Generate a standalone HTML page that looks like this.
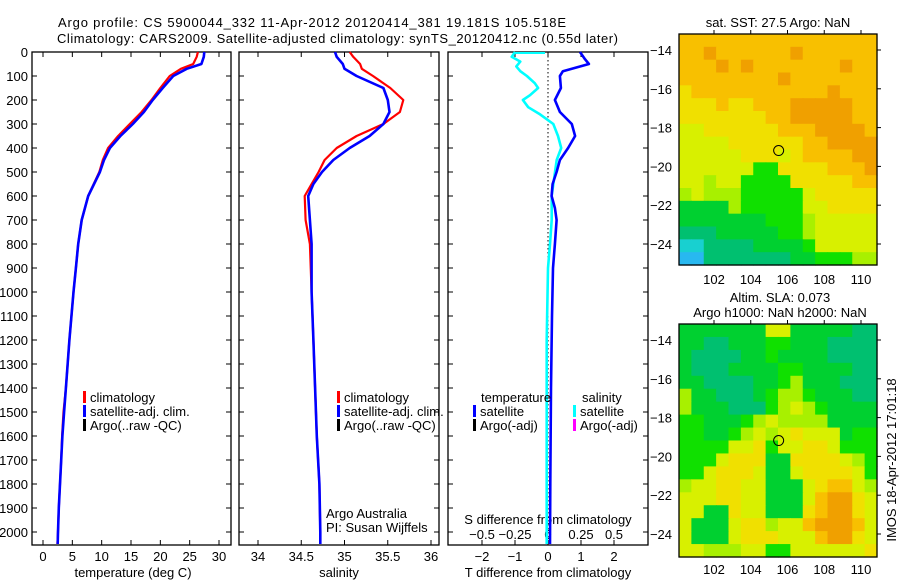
<!DOCTYPE html>
<html><head><meta charset="utf-8"><style>
html,body{margin:0;padding:0;background:#fff;}
svg{display:block;font-family:"Liberation Sans",sans-serif;}
</style></head><body>
<svg id="fig" width="900" height="580" viewBox="0 0 900 580">
<text x="58" y="27" font-size="13" textLength="508">Argo profile: CS 5900044_332 11-Apr-2012 20120414_381 19.181S 105.518E</text>
<text x="57" y="43" font-size="13" textLength="561">Climatology: CARS2009. Satellite-adjusted climatology: synTS_20120412.nc (0.55d later)</text>
<g id="g"></g>
</svg>
<script>
// ---- profile data ----
const tDepth = [0,20,50,70,100,150,200,250,300,350,400,450,500,600,700,800,900,1000,1200,1400,1500,1600,1700,1800,1900,2000,2050];
const tClim  = [26.4,26.2,25.6,23.5,21.6,20.0,18.5,16.8,14.8,12.8,11.1,10.2,9.6,7.7,6.6,6.0,5.6,5.2,4.5,3.9,3.5,3.25,3.1,2.9,2.7,2.55,2.45];
const tSat   = [27.5,27.4,27.0,24.5,22.2,20.4,18.7,17.2,15.3,13.2,11.4,10.4,9.7,7.7,6.6,6.0,5.6,5.2,4.5,3.9,3.6,3.3,3.1,2.9,2.7,2.55,2.5];
const sDepth = [0,20,50,70,100,150,200,250,300,350,400,450,500,550,600,700,800,1000,1200,1400,1600,1800,2000,2050];
const sClim  = [35.06,35.10,35.18,35.20,35.33,35.53,35.68,35.64,35.45,35.14,34.91,34.77,34.70,34.62,34.54,34.55,34.60,34.62,34.64,34.66,34.68,34.71,34.72,34.72];
const sSat   = [34.89,34.91,34.98,35.00,35.14,35.45,35.50,35.52,35.45,35.29,35.06,34.87,34.74,34.64,34.58,34.60,34.62,34.62,34.64,34.66,34.68,34.71,34.72,34.72];
const dDepth = [0,30,50,80,100,150,200,250,300,350,400,450,500,550,600,650,700,800,900,1100,1400,1800,2050];
const dT     = [0.97,1.12,1.24,0.45,0.36,0.39,0.21,0.36,0.72,0.82,0.61,0.36,0.26,0.14,0.11,0.21,0.26,0.21,0.15,0.12,0.09,0.07,0.06];
const sdDepth= [0,20,40,60,80,100,130,150,180,200,230,260,280,300,350,400,450,500,600,700,800,900,1200,1600,2050];
const dS     = [-0.25,-0.275,-0.21,-0.24,-0.21,-0.16,-0.10,-0.075,-0.136,-0.19,-0.15,-0.06,-0.01,0.04,0.076,0.10,0.066,0.053,0.028,0.028,0.015,0.0,-0.01,-0.01,-0.01];
const depthTicks = [0,100,200,300,400,500,600,700,800,900,1000,1100,1200,1300,1400,1500,1600,1700,1800,1900,2000];
const tempTicks = [0,5,10,15,20,25,30];
const salTicks = [34,34.5,35,35.5,36];
const salTickLabels = ["34","34.5","35","35.5","36"];
const dTTicks = [-2,-1,0,1,2];
const dSTicks = [-0.5,-0.25,0,0.25,0.5];
const dSTickLabels = ["-0.5","-0.25","0","0.25","0.5"];
// ---- map data (0 = cyan/blue ... 9 = orange) ----
const sstGrid = [
"8888888888888888",
"8898888889888888",
"8889898888888988",
"8888888898888888",
"7888888888889888",
"7778778889999988",
"7777777889999988",
"6677777788899998",
"6666777777889999",
"6666677767888899",
"6666664477778889",
"6656644447777788",
"5655544444677777",
"3333544444667777",
"3333333444566666",
"2223333344566666",
"1122223333466666",
"0022222223344455"];
const slaGrid = [
"3333333663333322",
"3322333443332222",
"3222233433332222",
"3222333344333322",
"3322223345333222",
"5332223455433322",
"5333222456543333",
"4433345655553333",
"4433456567666344",
"4444667466776444",
"4446777337777654",
"4467776336777764",
"5667766333678865",
"6667766333689976",
"6633766333789976",
"6333677566899986",
"6333677766689976",
"6655566446666667"];
const cmap = ["#28b8f0","#18d0d0","#00c070","#00d030","#10e000","#a8f000","#d8f000","#f0e000","#f8c000","#f0a000"];

const NS='http://www.w3.org/2000/svg';
const g=document.getElementById('g');
function el(tag,attrs,parent){const e=document.createElementNS(NS,tag);for(const k in attrs)e.setAttribute(k,attrs[k]);(parent||g).appendChild(e);return e;}
function txt(x,y,s,attrs,parent){const e=el('text',Object.assign({x:x,y:y,'font-size':13},attrs||{}),parent);e.textContent=s;return e;}

const Y0=52, Y1=545;
const yD = d => Y0 + 0.24*d;
const xT = t => 43 + 5.867*t;
const xS = s => 258 + 86.5*(s-34);
const xDT = t => 548 + 33*t;
const xDS = s => 548 + 132*s;

function panel(x0,x1,name){
  const r=el('rect',{x:x0,y:Y0,width:x1-x0,height:Y1-Y0,fill:'none',stroke:'#000','stroke-width':1.3});
  
  
  depthTicks.forEach(d=>{
    el('line',{x1:x0,x2:x0+5,y1:yD(d),y2:yD(d),stroke:'#000'});
    el('line',{x1:x1,x2:x1-5,y1:yD(d),y2:yD(d),stroke:'#000'});
  });
}
function stepLine(depths,vals,fx,color,w,name){
  let d='';
  for(let i=0;i<depths.length;i++){
    const x=fx(vals[i]).toFixed(1), y=yD(depths[i]).toFixed(1);
    d+=(i?'L':'M')+x+' '+y;
  }
  const p=el('path',{d:d,fill:'none',stroke:color,'stroke-width':w,'stroke-linejoin':'round'});
  
  
}

// Panel 1: temperature
panel(32,231,'temperature-panel');
depthTicks.forEach(d=>{const t=txt(28,yD(d)+5,String(d),{'text-anchor':'end'});

});
tempTicks.forEach(v=>{
  el('line',{x1:xT(v),x2:xT(v),y1:Y1,y2:Y1-5,stroke:'#000'});
  el('line',{x1:xT(v),x2:xT(v),y1:Y0,y2:Y0+5,stroke:'#000'});
  const t=txt(xT(v),561,String(v),{'text-anchor':'middle'});
  
  
});
const xl1=txt(133,577,'temperature (deg C)',{'text-anchor':'middle'});


stepLine(tDepth,tClim,xT,'#f00',2.2,'temperature-climatology-line');
stepLine(tDepth,tSat,xT,'#00f',2.6,'temperature-satellite-line');

// Panel 2: salinity
panel(239,439,'salinity-panel');
salTicks.forEach((v,i)=>{
  el('line',{x1:xS(v),x2:xS(v),y1:Y1,y2:Y1-5,stroke:'#000'});
  el('line',{x1:xS(v),x2:xS(v),y1:Y0,y2:Y0+5,stroke:'#000'});
  const t=txt(xS(v),561,salTickLabels[i],{'text-anchor':'middle'});
  
  
});
const xl2=txt(339,577,'salinity',{'text-anchor':'middle'});


stepLine(sDepth,sClim,xS,'#f00',2.2,'salinity-climatology-line');
stepLine(sDepth,sSat,xS,'#00f',2.6,'salinity-satellite-line');

// Panel 3: differences
panel(448,648,'difference-panel');
el('line',{x1:548,x2:548,y1:Y0,y2:Y1,stroke:'#000','stroke-dasharray':'1.5,2.5'});
dTTicks.forEach(v=>{
  el('line',{x1:xDT(v),x2:xDT(v),y1:Y1,y2:Y1-5,stroke:'#000'});
  el('line',{x1:xDT(v),x2:xDT(v),y1:Y0,y2:Y0+5,stroke:'#000'});
  const t=txt(xDT(v),561,String(v).replace('-','\u2212'),{'text-anchor':'middle'});
  
  
});
dSTicks.forEach((v,i)=>{
  const t=txt(xDS(v),539,dSTickLabels[i].replace('-','\u2212'),{'text-anchor':'middle'});
  
  
});
const sl=txt(548,524,'S difference from climatology',{'text-anchor':'middle'});


const xl3=txt(548,577,'T difference from climatology',{'text-anchor':'middle'});


el('line',{x1:515,x2:545,y1:Y0+1,y2:Y0+1,stroke:'#0ff','stroke-width':2});
stepLine(sdDepth,dS,xDS,'#0ff',2.6,'salinity-difference-line');
stepLine(dDepth,dT,xDT,'#00f',2.6,'temperature-difference-line');

// Legends
function legend(x,y,items,name){
  items.forEach((it,i)=>{
    const b=el('rect',{x:x,y:y+i*14-6,width:3,height:12,fill:it[0]});
    
    
    const t=txt(x+7,y+i*14+5,it[1],{});
    
    
  });
}
legend(83,397,[['#f00','climatology'],['#00f','satellite-adj. clim.'],['#000','Argo(..raw -QC)']],'temperature-legend');
legend(337,397,[['#f00','climatology'],['#00f','satellite-adj. clim.'],['#000','Argo(..raw -QC)']],'salinity-legend');
const lt=txt(481,402,'temperature',{});


legend(473,411,[['#00f','satellite'],['#000','Argo(-adj)']],'difference-legend-temperature');
const ls=txt(582,402,'salinity',{});


legend(573,411,[['#0ff','satellite'],['#f0f','Argo(-adj)']],'difference-legend-salinity');
const aa=txt(326,518,'Argo Australia',{});


const pi=txt(326,532,'PI: Susan Wijffels',{});



// Maps
const lonTicks=[102,104,106,108,110];
const latTicks=[-14,-16,-18,-20,-22,-24];
function map(grid,mx0,mx1,my0,my1,yLat14,yLat24,xlabY,name){
  const lonX = lon => 714 + (lon-102)*18.375;
  const latY = lat => yLat14 + (-14-lat)*(yLat24-yLat14)/10;
  const rows=grid.length, cols=grid[0].length;
  const cw=(mx1-mx0)/cols, ch=(my1-my0)/rows;
  for(let r=0;r<rows;r++)for(let c=0;c<cols;c++){
    const cell=el('rect',{x:(mx0+c*cw).toFixed(2),y:(my0+r*ch).toFixed(2),width:(cw+0.6).toFixed(2),height:(ch+0.6).toFixed(2),fill:cmap[+grid[r][c]]});
    
    
  }
  const fr=el('rect',{x:mx0,y:my0,width:mx1-mx0,height:my1-my0,fill:'none',stroke:'#000','stroke-width':1.3});
  
  
  lonTicks.forEach(v=>{
    el('line',{x1:lonX(v),x2:lonX(v),y1:my0,y2:my0-4,stroke:'#000'});
    const t=txt(lonX(v),xlabY,String(v),{'text-anchor':'middle'});
    
    
  });
  latTicks.forEach(v=>{
    el('line',{x1:mx1,x2:mx1+4,y1:latY(v),y2:latY(v),stroke:'#000'});
    const t=txt(672,latY(v)+5,String(v).replace('-','\u2212'),{'text-anchor':'end'});
    
    
  });
  const c=el('circle',{cx:lonX(105.518),cy:latY(-19.181),r:5,fill:'none',stroke:'#000','stroke-width':1});
  
  
}
map(sstGrid,679,877,34,265,50,244,284,'sst-map');
map(slaGrid,679,877,324,557,340,534,574,'sla-map');
const t1=txt(778,27,'sat. SST: 27.5 Argo: NaN',{'text-anchor':'middle'});


const t2=txt(780,302,'Altim. SLA: 0.073',{'text-anchor':'middle'});


const t3=txt(780,317,'Argo h1000: NaN h2000: NaN',{'text-anchor':'middle'});


const st=txt(0,0,'IMOS 18-Apr-2012 17:01:18',{'text-anchor':'middle',transform:'translate(896,460) rotate(-90)'});


</script>
</body></html>
